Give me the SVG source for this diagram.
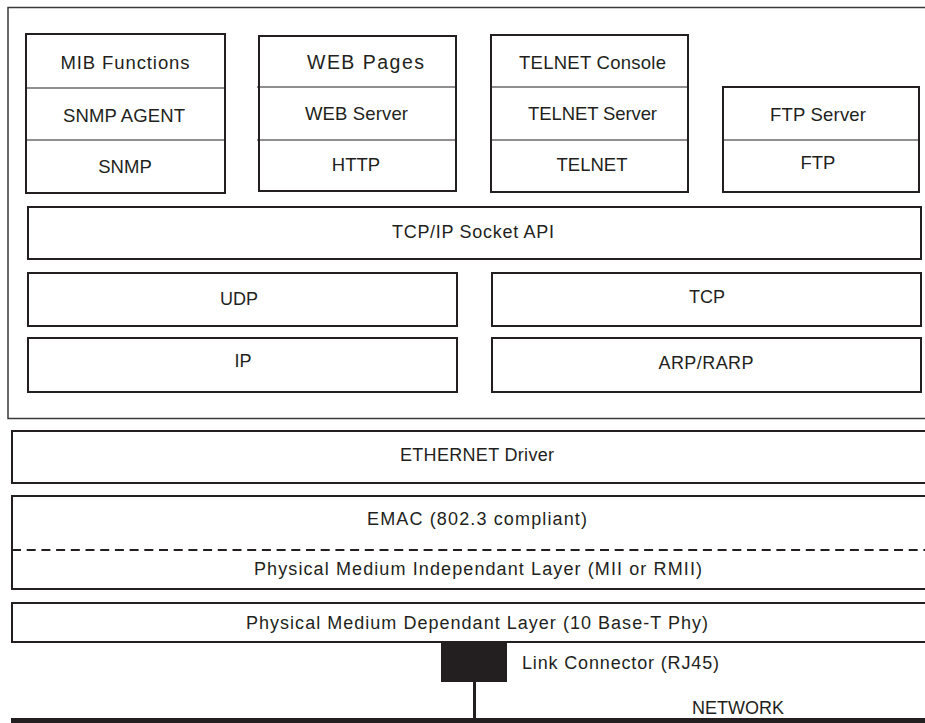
<svg xmlns="http://www.w3.org/2000/svg" width="925" height="723" viewBox="0 0 925 723">
<style>
  .bx { fill: #ffffff; stroke: #231f20; stroke-width: 2; }
  .outer { fill: #ffffff; stroke: #3a3a3a; stroke-width: 1.5; }
  .div { stroke: #231f20; stroke-width: 1.2; fill: none; }
  .t { font-family: "Liberation Sans", Arial, sans-serif; font-size: 18.5px; fill: #231f20; text-anchor: middle; }
  .ts { font-family: "Liberation Sans", Arial, sans-serif; font-size: 18px; fill: #231f20; text-anchor: middle; }
</style>
<rect x="0" y="0" width="925" height="723" fill="#ffffff"/>

<g id="stack-frame">
  <rect class="outer" x="8" y="7.5" width="940" height="411"/>
</g>

<g id="snmp-stack">
  <rect class="bx" x="26" y="34" width="199" height="159"/>
  <line class="div" x1="26" y1="88" x2="225" y2="88"/>
  <line class="div" x1="26" y1="140" x2="225" y2="140"/>
  <text class="t" x="125" y="69" textLength="129" lengthAdjust="spacing">MIB Functions</text>
  <text class="t" x="124" y="122" textLength="122" lengthAdjust="spacing">SNMP AGENT</text>
  <text class="t" x="125" y="173">SNMP</text>
</g>

<g id="web-stack">
  <rect class="bx" x="259" y="36" width="197" height="155"/>
  <line class="div" x1="257" y1="87" x2="456" y2="87"/>
  <line class="div" x1="257" y1="140" x2="456" y2="140"/>
  <text class="t" x="365.5" y="69" style="font-size:19.5px" textLength="117" lengthAdjust="spacing">WEB Pages</text>
  <text class="t" x="356.5" y="120" textLength="103" lengthAdjust="spacing">WEB Server</text>
  <text class="t" x="356" y="171">HTTP</text>
</g>

<g id="telnet-stack">
  <rect class="bx" x="491" y="35" width="197" height="157"/>
  <line class="div" x1="491" y1="87" x2="688" y2="87"/>
  <line class="div" x1="491" y1="140" x2="688" y2="140"/>
  <text class="t" x="592.5" y="69" textLength="147" lengthAdjust="spacing">TELNET Console</text>
  <text class="t" x="592.5" y="120" textLength="129" lengthAdjust="spacing">TELNET Server</text>
  <text class="t" x="592" y="171">TELNET</text>
</g>

<g id="ftp-stack">
  <rect class="bx" x="723" y="87" width="196" height="105"/>
  <line class="div" x1="723" y1="140" x2="919" y2="140"/>
  <text class="t" x="818" y="121" textLength="96" lengthAdjust="spacing">FTP Server</text>
  <text class="t" x="818" y="169">FTP</text>
</g>

<g id="socket-api">
  <rect class="bx" x="28" y="207" width="893" height="52"/>
  <text class="ts" x="473" y="238" textLength="162" lengthAdjust="spacing">TCP/IP Socket API</text>
</g>

<g id="udp">
  <rect class="bx" x="28" y="273" width="429" height="53"/>
  <text class="ts" x="239" y="305">UDP</text>
</g>

<g id="tcp">
  <rect class="bx" x="492" y="273" width="429" height="53"/>
  <text class="ts" x="707" y="303">TCP</text>
</g>

<g id="ip">
  <rect class="bx" x="28" y="338" width="429" height="54"/>
  <text class="ts" x="243" y="367">IP</text>
</g>

<g id="arp-rarp">
  <rect class="bx" x="492" y="338" width="429" height="54"/>
  <text class="ts" x="706" y="369" textLength="95" lengthAdjust="spacing">ARP/RARP</text>
</g>

<g id="ethernet-driver">
  <rect class="bx" x="12" y="431" width="930" height="52"/>
  <text class="ts" x="477" y="461" textLength="154" lengthAdjust="spacing">ETHERNET Driver</text>
</g>

<g id="emac">
  <rect class="bx" x="12" y="496" width="930" height="93"/>
  <line x1="12" y1="550" x2="925" y2="550" stroke="#231f20" stroke-width="2" stroke-dasharray="9 5.7"/>
  <text class="ts" x="477" y="525" textLength="220" lengthAdjust="spacing">EMAC (802.3 compliant)</text>
  <text class="ts" x="478" y="575" textLength="448" lengthAdjust="spacing">Physical Medium Independant Layer (MII or RMII)</text>
</g>

<g id="pmd">
  <rect class="bx" x="12" y="603" width="930" height="39"/>
  <text class="ts" x="477" y="629" textLength="462" lengthAdjust="spacing">Physical Medium Dependant Layer (10 Base-T Phy)</text>
</g>

<g id="link-connector">
  <rect x="441" y="642" width="66" height="40" fill="#231f20"/>
  <text class="ts" x="522" y="669" style="text-anchor:start" textLength="197" lengthAdjust="spacing">Link Connector (RJ45)</text>
</g>

<g id="network">
  <rect x="11" y="718" width="914" height="5" fill="#231f20"/>
  <text class="ts" x="738" y="714" textLength="92" lengthAdjust="spacing">NETWORK</text>
</g>

<g id="connectors">
  <line x1="474.5" y1="682" x2="474.5" y2="719" stroke="#231f20" stroke-width="3"/>
</g>
</svg>
